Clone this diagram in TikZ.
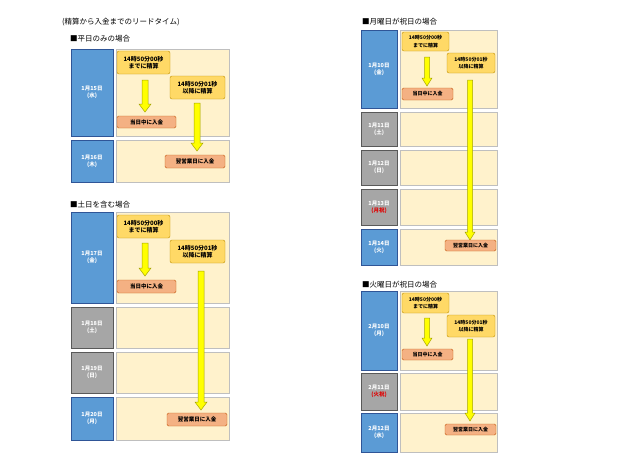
\documentclass[tikz,border=0pt]{standalone}
\usepackage{fontspec}
\setmainfont{Noto Sans CJK JP}
\definecolor{dblue}{HTML}{5B9BD5}
\definecolor{dblueb}{HTML}{2F5597}
\definecolor{dgray}{HTML}{A6A6A6}
\definecolor{dgrayb}{HTML}{595959}
\definecolor{cfill}{HTML}{FFF2CC}
\definecolor{cbord}{HTML}{BFBFBF}
\definecolor{yfill}{HTML}{FFD966}
\definecolor{ybord}{HTML}{BF9000}
\definecolor{ofill}{HTML}{F4B183}
\definecolor{obord}{HTML}{C55A11}
\definecolor{afill}{HTML}{FFFF00}
\definecolor{abord}{HTML}{A6A600}
\definecolor{hred}{HTML}{E00000}
\tikzset{
 datebox/.style={draw=dblueb,fill=dblue,line width=0.8pt,text=white,font=\bfseries\fontsize{5.5}{7}\selectfont,align=center},
 graybox/.style={draw=dgrayb,fill=dgray,line width=0.8pt,text=white,font=\bfseries\fontsize{5.5}{7}\selectfont,align=center},
 contbox/.style={draw=cbord,fill=cfill,line width=0.8pt},
 ybox/.style={draw=ybord,fill=yfill,rounded corners=2pt,font=\bfseries\fontsize{6}{7.5}\selectfont,align=center,inner sep=0pt},
 obox/.style={draw=obord,fill=ofill,rounded corners=1.5pt,font=\bfseries\fontsize{5.5}{7}\selectfont,inner sep=0pt},
 fatarr/.style={draw=abord,fill=afill,line width=0.5pt},
 ttl/.style={anchor=west,font=\fontsize{7.5}{9}\selectfont,inner sep=0pt}
}
\newcommand\rectnode[6]{\node[#1,minimum width=#4-#2,minimum height=#5-#3,inner sep=0pt] (#6) at ({(#2+#4)/2},{(#3+#5)/2}) {};}
\newcommand\txtnode[7]{\node[#1,minimum width=#4-#2,minimum height=#5-#3] (#6) at ({(#2+#4)/2},{(#3+#5)/2}) {#7};}
% x, ytop, ybottom, half shaft width
\newcommand\fatarrow[4]{\draw[fatarr] (#1-#4,#2) -- (#1+#4,#2) -- (#1+#4,#3-8) -- (#1+2*#4,#3-8) -- (#1,#3) -- (#1-2*#4,#3-8) -- (#1-#4,#3-8) -- cycle;}
\begin{document}
\begin{tikzpicture}[x=1pt,y=-1pt]
\useasboundingbox[fill=white] (0,0) rectangle (640,466);
% ===== Panel 1
\node[ttl] (t0) at (62,22) {(精算から入金までのリードタイム)};
\node[ttl] (t1) at (70,39) {■平日のみの場合};
\txtnode{datebox}{71}{49}{113}{136}{a1}{1月15日\\(水)}
\rectnode{contbox}{116}{49}{229}{136}{ac1}
\txtnode{datebox}{71}{140}{113}{182}{a2}{1月16日\\(木)}
\rectnode{contbox}{116}{140}{229}{182}{ac2}
\txtnode{ybox}{117}{51}{170}{74}{ay1}{14時50分00秒\\までに精算}
\txtnode{ybox}{170}{76}{225}{99}{ay2}{14時50分01秒\\以降に精算}
\fatarrow{145}{80}{112}{3}
\txtnode{obox}{117}{116}{176}{128}{ao1}{当日中に入金}
\fatarrow{197}{103}{151}{3}
\txtnode{obox}{165}{155}{225}{168}{ao2}{翌営業日に入金}
% ===== Panel 2
\node[ttl] (t2) at (70,205) {■土日を含む場合};
\txtnode{datebox}{71}{212}{113}{303}{b1}{1月17日\\(金)}
\rectnode{contbox}{116}{212}{229}{303}{bc1}
\txtnode{graybox}{71}{307}{113}{348}{b2}{1月18日\\(土)}
\rectnode{contbox}{116}{307}{229}{348}{bc2}
\txtnode{graybox}{71}{352}{113}{393}{b3}{1月19日\\(日)}
\rectnode{contbox}{116}{352}{229}{393}{bc3}
\txtnode{datebox}{71}{397}{113}{440}{b4}{1月20日\\(月)}
\rectnode{contbox}{116}{397}{229}{440}{bc4}
\txtnode{ybox}{117}{215}{170}{238}{by1}{14時50分00秒\\までに精算}
\txtnode{ybox}{170}{240}{225}{263}{by2}{14時50分01秒\\以降に精算}
\fatarrow{145}{243}{276}{3}
\txtnode{obox}{117}{280}{176}{293}{bo1}{当日中に入金}
\fatarrow{201}{271}{410}{3}
\txtnode{obox}{167}{413}{227}{426}{bo2}{翌営業日に入金}
% ===== Panel 3
\node[ttl] (t3) at (362,22) {■月曜日が祝日の場合};
\txtnode{datebox}{361}{30}{397}{108}{c1}{1月10日\\(金)}
\rectnode{contbox}{400}{30}{497}{108}{cc1}
\txtnode{graybox}{361}{112}{397}{146}{c2}{1月11日\\(土)}
\rectnode{contbox}{400}{112}{497}{146}{cc2}
\txtnode{graybox}{361}{150}{397}{185}{c3}{1月12日\\(日)}
\rectnode{contbox}{400}{150}{497}{185}{cc3}
\txtnode{graybox}{361}{189}{397}{225}{c4}{1月13日\\\textcolor{hred}{(月祝)}}
\rectnode{contbox}{400}{189}{497}{225}{cc4}
\txtnode{datebox}{361}{229}{397}{265}{c5}{1月14日\\(火)}
\rectnode{contbox}{400}{229}{497}{265}{cc5}
\txtnode{ybox}{402}{32}{449}{51}{cy1}{\fontsize{5}{6.5}\selectfont 14時50分00秒\\\fontsize{5}{6.5}\selectfont までに精算}
\txtnode{ybox}{447}{53}{495}{73}{cy2}{\fontsize{5}{6.5}\selectfont 14時50分01秒\\\fontsize{5}{6.5}\selectfont 以降に精算}
\fatarrow{427}{57}{86}{2.5}
\txtnode{obox}{402}{88}{453}{100}{co1}{\fontsize{5}{6}\selectfont 当日中に入金}
\fatarrow{470}{80}{240}{2.5}
\txtnode{obox}{445}{240}{496}{251}{co2}{\fontsize{5}{6}\selectfont 翌営業日に入金}
% ===== Panel 4
\node[ttl] (t4) at (362,285) {■火曜日が祝日の場合};
\txtnode{datebox}{361}{291}{397}{370}{d1}{2月10日\\(月)}
\rectnode{contbox}{400}{291}{497}{370}{dc1}
\txtnode{graybox}{361}{373}{397}{410}{d2}{2月11日\\\textcolor{hred}{(火祝)}}
\rectnode{contbox}{400}{373}{497}{410}{dc2}
\txtnode{datebox}{361}{413}{397}{452}{d3}{2月12日\\(水)}
\rectnode{contbox}{400}{413}{497}{452}{dc3}
\txtnode{ybox}{402}{293}{449}{313}{dy1}{\fontsize{5}{6.5}\selectfont 14時50分00秒\\\fontsize{5}{6.5}\selectfont までに精算}
\txtnode{ybox}{447}{315}{495}{337}{dy2}{\fontsize{5}{6.5}\selectfont 14時50分01秒\\\fontsize{5}{6.5}\selectfont 以降に精算}
\fatarrow{427}{318}{346}{2.5}
\txtnode{obox}{402}{349}{453}{360}{do1}{\fontsize{5}{6}\selectfont 当日中に入金}
\fatarrow{470}{339}{421}{2.5}
\txtnode{obox}{445}{424}{496}{435}{do2}{\fontsize{5}{6}\selectfont 翌営業日に入金}
\end{tikzpicture}
\end{document}
